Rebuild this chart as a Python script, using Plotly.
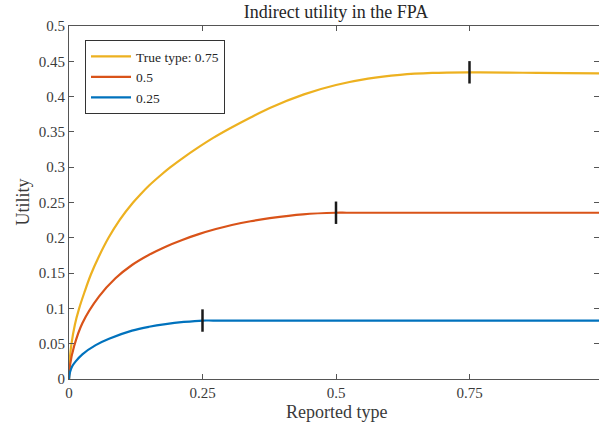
import plotly.graph_objects as go

# ---- data ----
series_names = ["True type: 0.75", "0.5", "0.25"]
series_colors = ["#EDB120", "#D95319", "#0072BD"]

x_075 = [0, 0.0015, 0.0047, 0.011, 0.019, 0.029, 0.041, 0.056, 0.074, 0.095, 0.12, 0.135,
         0.15, 0.17, 0.19, 0.215, 0.24, 0.27, 0.30, 0.34, 0.376,
         0.44, 0.5, 0.56, 0.62, 0.68, 0.75, 0.77, 0.85, 0.93, 1.0]
y_075 = [0, 0.028, 0.05, 0.077, 0.1, 0.123, 0.148, 0.1735, 0.2, 0.2255, 0.25, 0.2625,
         0.274, 0.2875, 0.3, 0.314, 0.327, 0.3415, 0.3545, 0.3705, 0.384,
         0.4032, 0.4164, 0.4254, 0.4308, 0.4335, 0.4344, 0.4344, 0.4338, 0.4333, 0.433]

x_050 = [0, 0.002, 0.0094, 0.025, 0.056, 0.087, 0.118, 0.15, 0.181, 0.212, 0.243,
         0.275, 0.305, 0.34, 0.376, 0.438, 0.5, 0.52, 0.6, 0.75, 0.9, 1.0]
y_050 = [0, 0.02, 0.046, 0.079, 0.1166, 0.1426, 0.1615, 0.176, 0.1875, 0.197, 0.2052,
         0.2124, 0.2181, 0.2235, 0.2278, 0.2333, 0.2355, 0.2355, 0.2355, 0.2355, 0.2355,
         0.2355]

x_025 = [0, 0.002, 0.006, 0.0125, 0.025, 0.05, 0.075, 0.118, 0.15, 0.181, 0.215,
         0.25, 0.27, 0.35, 0.5, 0.75, 1.0]
y_025 = [0, 0.01, 0.018, 0.025, 0.035, 0.048, 0.057, 0.0685, 0.0740, 0.0778, 0.0808,
         0.0828, 0.0828, 0.0828, 0.0828, 0.0828, 0.0828]

peak_x = [0.75, 0.5, 0.25]
peak_y = [0.4344, 0.2355, 0.0828]

xs = [x_075, x_050, x_025]
ys = [y_075, y_050, y_025]

x_ticks = [0, 0.25, 0.5, 0.75]
x_ticktext = ["0", "0.25", "0.5", "0.75"]
y_ticks = [0, 0.05, 0.1, 0.15, 0.2, 0.25, 0.3, 0.35, 0.4, 0.45, 0.5]
y_ticktext = ["0", "0.05", "0.1", "0.15", "0.2", "0.25", "0.3", "0.35", "0.4", "0.45", "0.5"]

FONT = "Liberation Serif"
TXT = "#3a3a3a"

fig = go.Figure()
for name, col, x, y in zip(series_names, series_colors, xs, ys):
    fig.add_trace(go.Scatter(x=x, y=y, mode="lines", name=name,
                             line=dict(color=col, width=2.2, shape="spline", smoothing=1.0)))

fig.add_trace(go.Scatter(x=peak_x, y=peak_y, mode="markers", showlegend=False,
                         marker=dict(symbol="line-ns", size=16, color="black",
                                     line=dict(color="#1a1a1a", width=2.5))))

W, H = 599, 426
L, T, B, R = 69, 26, 47, 0
plot_w = W - L - R
plot_h = H - T - B
px_per_unit = 534.0
x_max = plot_w / px_per_unit

fig.update_layout(
    width=W, height=H,
    margin=dict(l=L, r=R, t=T, b=B),
    paper_bgcolor="white", plot_bgcolor="white",
    font=dict(family=FONT, size=15, color=TXT),
    title=dict(text="Indirect utility in the FPA", x=(336 - L) / plot_w, xref="paper",
               xanchor="center", y=1 - 12 / H, yref="container", yanchor="middle",
               font=dict(family=FONT, size=18, color="#262626")),
    showlegend=True,
    legend=dict(x=(85 - L) / plot_w, y=(379 - 40) / plot_h, xanchor="left", yanchor="top",
                bgcolor="white", bordercolor="#333", borderwidth=1,
                font=dict(family=FONT, size=13.5, color="#262626"),
                tracegroupgap=0, itemwidth=40),
    xaxis=dict(range=[0, x_max], tickvals=x_ticks, ticktext=x_ticktext,
               ticks="inside", ticklen=5, tickcolor="#555", showline=True, linecolor="#555",
               linewidth=1, mirror="ticks", showgrid=False, zeroline=False,
               tickfont=dict(family=FONT, size=15, color=TXT)),
    yaxis=dict(range=[0, 0.5], tickvals=y_ticks, ticktext=y_ticktext,
               ticks="inside", ticklen=5, tickcolor="#555", showline=True, linecolor="#555",
               linewidth=1, mirror="ticks", showgrid=False, zeroline=False,
               tickfont=dict(family=FONT, size=15, color=TXT)),
    annotations=[
        dict(text="Reported type", xref="paper", yref="paper", x=(336 - L) / plot_w,
             y=-(412 - 379) / plot_h, xanchor="center", yanchor="middle",
             showarrow=False, font=dict(family=FONT, size=18, color=TXT)),
        dict(text="Utility", xref="paper", yref="paper", x=-(L - 22) / plot_w,
             y=0.5, xanchor="center", yanchor="middle", textangle=-90,
             showarrow=False, font=dict(family=FONT, size=18, color=TXT)),
    ],
)

fig.write_html("out.html", config={"displayModeBar": False},
               post_script="document.body.style.margin='0';document.body.style.overflow='hidden';")
